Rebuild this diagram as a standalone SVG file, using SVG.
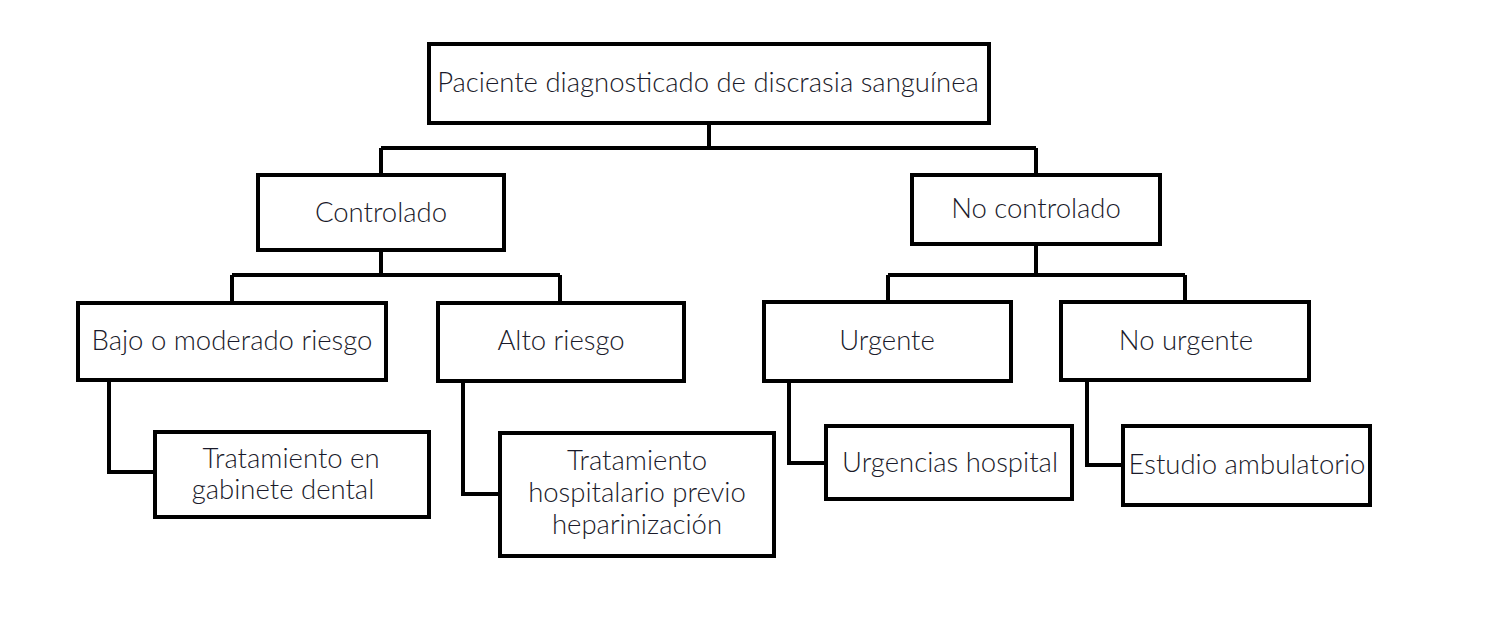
<svg xmlns="http://www.w3.org/2000/svg" width="1488" height="630" viewBox="0 0 1488 630">
<style>
.box{fill:#fff;stroke:#000;stroke-width:4}
.lbl{font-family:Lato,"Open Sans",sans-serif;font-size:27.5px;font-weight:300;fill:#1a1a2a;text-anchor:middle}
.con{fill:none;stroke:#000;stroke-width:4}
</style>
<rect width="1488" height="630" fill="#fff"/>
<g id="connectors">
<path class="con" d="M709 123V148M381 148H1036M381 148V175M1036 148V175"/>
<path class="con" d="M381 250V275M232 275H560M232 275V303M560 275V303"/>
<path class="con" d="M1036 244V275M888 275H1185M888 275V302M1185 275V302"/>
<path class="con" d="M109 380V472H155"/>
<path class="con" d="M463 381V494H500"/>
<path class="con" d="M789 381V463H826"/>
<path class="con" d="M1087 380V465H1123"/>
</g>
<g id="n_root"><rect class="box" x="429" y="44" width="560" height="79"/><text class="lbl" x="708" y="92">Paciente diagnosticado de discrasia sanguínea</text></g>
<g id="n_controlado"><rect class="box" x="258" y="175" width="246" height="75"/><text class="lbl" x="381" y="222">Controlado</text></g>
<g id="n_nocontrolado"><rect class="box" x="912" y="175" width="248" height="69"/><text class="lbl" x="1036" y="218">No controlado</text></g>
<g id="n_bajo"><rect class="box" x="78" y="303" width="308" height="77"/><text class="lbl" x="232" y="350">Bajo o moderado riesgo</text></g>
<g id="n_alto"><rect class="box" x="438" y="303" width="246" height="78"/><text class="lbl" x="561" y="350">Alto riesgo</text></g>
<g id="n_urgente"><rect class="box" x="764" y="302" width="247" height="79"/><text class="lbl" x="887" y="350">Urgente</text></g>
<g id="n_nourgente"><rect class="box" x="1061" y="302" width="248" height="78"/><text class="lbl" x="1186" y="350">No urgente</text></g>
<g id="n_gabinete"><rect class="box" x="155" y="432" width="274" height="85"/><text class="lbl" x="291" y="468">Tratamiento en</text><text class="lbl" x="283" y="499">gabinete dental</text></g>
<g id="n_hospitalario"><rect class="box" x="500" y="433" width="274" height="123"/><text class="lbl" x="637" y="470">Tratamiento</text><text class="lbl" x="637" y="502">hospitalario previo</text><text class="lbl" x="637" y="534">heparinización</text></g>
<g id="n_urgencias"><rect class="box" x="826" y="426" width="246" height="73"/><text class="lbl" x="950" y="472">Urgencias hospital</text></g>
<g id="n_estudio"><rect class="box" x="1123" y="426" width="247" height="79"/><text class="lbl" x="1247" y="474">Estudio ambulatorio</text></g>
</svg>
